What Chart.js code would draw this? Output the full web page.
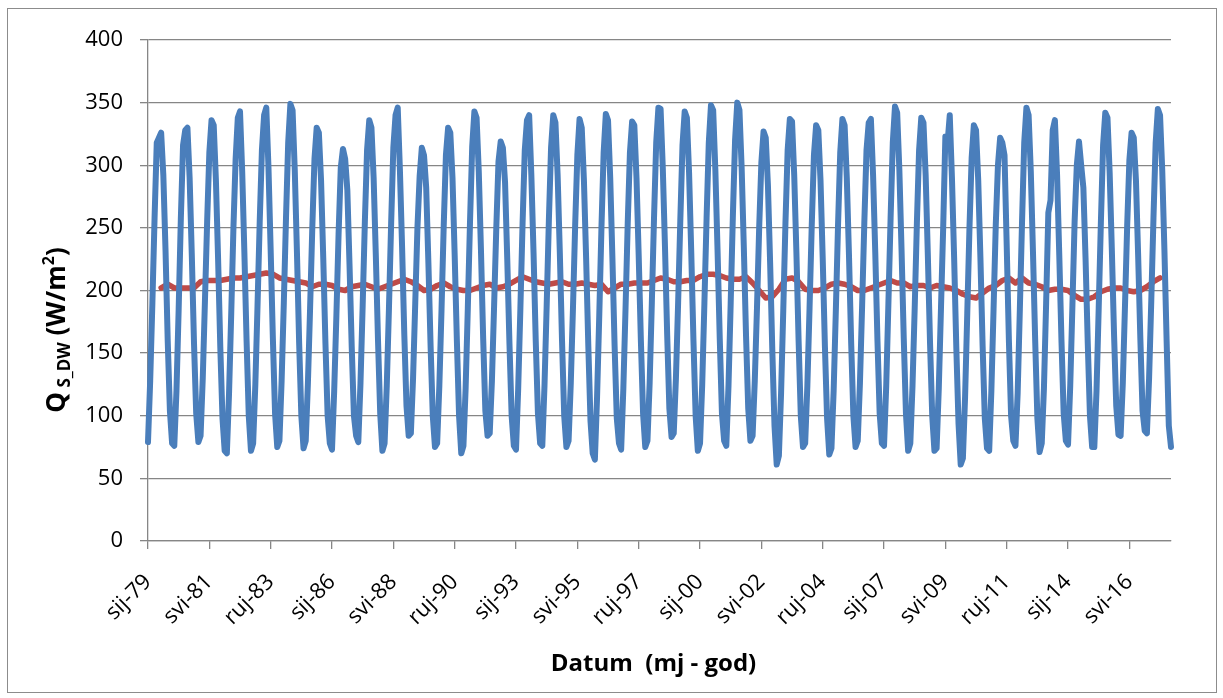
<!DOCTYPE html>
<html>
<head>
<meta charset="utf-8">
<script src="https://cdn.jsdelivr.net/npm/chart.js@4.4.1/dist/chart.umd.min.js"></script>
<style>
  html, body { margin: 0; padding: 0; background: #fff; }
  #wrap { width: 1223px; height: 698px; position: relative; }
</style>
</head>
<body>
<div id="wrap"><canvas id="chartQ"></canvas></div>
<script>
// Mjeseci (hr) i raspon godina
const monthNames = ["sij", "velj", "ožu", "tra", "svi", "lip", "srp", "kol", "ruj", "lis", "stu", "pro"];
const firstYear = 1979;
const lastYear = 2017;

// Oznake koje se vide na x osi
const tickLabels = ["sij-79", "svi-81", "ruj-83", "sij-86", "svi-88", "ruj-90", "sij-93", "svi-95",
  "ruj-97", "sij-00", "svi-02", "ruj-04", "sij-07", "svi-09", "ruj-11", "sij-14", "svi-16"];

// Q_S_DW mjesečno (W/m2), sij..pro
const q1979 = [79, 128, 190, 258, 318, 322, 326, 292, 232, 160, 104, 78];
const q1980 = [76, 120, 185, 258, 316, 328, 330, 290, 228, 158, 102, 79];
const q1981 = [84, 130, 192, 255, 310, 336, 332, 288, 225, 155, 98, 72];
const q1982 = [70, 118, 182, 250, 305, 338, 343, 295, 230, 160, 100, 72];
const q1983 = [78, 125, 188, 255, 312, 340, 346, 298, 232, 162, 102, 75];
const q1984 = [80, 128, 190, 258, 318, 349, 344, 296, 230, 158, 100, 74];
const q1985 = [80, 126, 186, 250, 305, 330, 326, 288, 226, 158, 100, 78];
const q1986 = [73, 120, 180, 245, 298, 313, 305, 280, 220, 155, 100, 84];
const q1987 = [79, 126, 188, 255, 312, 336, 330, 290, 228, 160, 102, 72];
const q1988 = [78, 124, 186, 254, 314, 340, 346, 296, 234, 165, 108, 84];
const q1989 = [86, 130, 190, 250, 291, 314, 308, 282, 222, 156, 100, 75];
const q1990 = [78, 124, 185, 252, 308, 330, 326, 290, 228, 160, 100, 70];
const q1991 = [76, 122, 186, 255, 315, 343, 338, 295, 232, 162, 104, 84];
const q1992 = [86, 128, 188, 250, 303, 319, 314, 286, 225, 158, 100, 76];
const q1993 = [73, 122, 186, 254, 312, 336, 340, 292, 230, 160, 102, 78];
const q1994 = [76, 124, 188, 256, 314, 340, 334, 292, 230, 160, 100, 75];
const q1995 = [80, 126, 186, 252, 308, 337, 330, 288, 226, 156, 96, 70];
const q1996 = [65, 115, 180, 250, 310, 341, 336, 290, 226, 156, 98, 78];
const q1997 = [73, 122, 186, 254, 310, 335, 332, 290, 228, 160, 102, 75];
const q1998 = [80, 126, 190, 258, 318, 346, 345, 298, 235, 165, 106, 83];
const q1999 = [86, 130, 190, 256, 316, 343, 338, 294, 230, 160, 100, 72];
const q2000 = [78, 125, 190, 258, 318, 348, 344, 296, 232, 162, 102, 80];
const q2001 = [76, 124, 190, 260, 320, 350, 344, 298, 234, 164, 106, 80];
const q2002 = [84, 128, 186, 250, 302, 327, 322, 284, 222, 152, 92, 61];
const q2003 = [68, 118, 184, 254, 312, 337, 335, 292, 230, 160, 100, 75];
const q2004 = [78, 124, 186, 252, 308, 332, 328, 288, 226, 156, 98, 69];
const q2005 = [74, 120, 184, 252, 310, 337, 332, 290, 228, 158, 100, 75];
const q2006 = [80, 126, 188, 254, 312, 334, 337, 292, 230, 160, 102, 78];
const q2007 = [76, 124, 190, 258, 318, 347, 342, 296, 232, 162, 102, 72];
const q2008 = [78, 124, 186, 254, 312, 338, 334, 292, 228, 158, 100, 72];
const q2009 = [74, 122, 186, 250, 323, 318, 340, 290, 226, 154, 94, 61];
const q2010 = [66, 115, 182, 250, 306, 332, 328, 288, 226, 156, 98, 74];
const q2011 = [72, 120, 185, 252, 300, 322, 318, 308, 236, 160, 100, 80];
const q2012 = [76, 118, 185, 255, 318, 346, 340, 295, 230, 160, 98, 71];
const q2013 = [78, 122, 190, 262, 272, 328, 336, 292, 228, 160, 102, 80];
const q2014 = [77, 124, 188, 255, 300, 319, 300, 282, 225, 158, 100, 75];
const q2015 = [75, 120, 186, 255, 316, 342, 338, 294, 232, 165, 108, 85];
const q2016 = [84, 126, 188, 252, 304, 326, 322, 288, 228, 162, 104, 88];
const q2017 = [86, 130, 192, 258, 318, 345, 340, 296, 232, 160, 92, 75];

const yearRows = [q1979, q1980, q1981, q1982, q1983, q1984, q1985, q1986, q1987, q1988,
  q1989, q1990, q1991, q1992, q1993, q1994, q1995, q1996, q1997, q1998, q1999, q2000,
  q2001, q2002, q2003, q2004, q2005, q2006, q2007, q2008, q2009, q2010, q2011, q2012,
  q2013, q2014, q2015, q2016, q2017];

// Pomični prosjek (12 mj.), očitan svaka 3 mjeseca, od srp-79 (indeks 6)
const maStart = 6;
const maEvery = 3;
const maValues = [
  202, 205, 202, 202, 202, 202, 207, 208, 208, 208, 209, 210, 210, 211, 212, 213, 214, 213,
  210, 209, 208, 207, 206, 203, 205, 205, 204, 201, 200, 203, 204, 205, 203, 201, 203, 205,
  207, 209, 207, 204, 200, 201, 204, 206, 203, 201, 200, 200, 202, 204, 205, 202, 203, 205,
  208, 211, 209, 207, 206, 205, 206, 207, 205, 205, 206, 205, 204, 205, 199, 202, 205, 205,
  206, 206, 206, 208, 210, 209, 207, 207, 208, 208, 211, 213, 213, 212, 210, 209, 209, 211,
  206, 200, 194, 195, 201, 209, 210, 207, 201, 200, 200, 202, 205, 206, 205, 203, 200, 200,
  202, 204, 206, 208, 206, 206, 203, 204, 204, 202, 204, 203, 202, 200, 197, 195, 194, 198,
  202, 204, 208, 210, 206, 210, 206, 205, 203, 200, 201, 201, 200, 196, 193, 193, 195, 199,
  201, 202, 202, 200, 199, 200, 203, 207, 210
];

const xTitle = "Datum  (mj - god)";

// Kategorije (mjeseci) i nizovi za chart
const labels = [];
for (let y = firstYear; y <= lastYear; y++) {
  monthNames.forEach(m => labels.push(m + "-" + String(y).slice(2)));
}
const blueData = [].concat(...yearRows);
const redData = labels.map(() => null);
maValues.forEach((v, i) => { redData[maStart + i * maEvery] = v; });

const gridGray = "#868686";

// Okvir, naslov x osi i naslov y osi (s indeksom i eksponentom)
const titlesPlugin = {
  id: "titles",
  beforeDraw(chart) {
    const ctx = chart.ctx;
    ctx.save();
    ctx.strokeStyle = "#8c8c8c";
    ctx.lineWidth = 1;
    ctx.strokeRect(7.5, 8.5, 1209, 684);
    ctx.restore();
  },
  afterDraw(chart) {
    const ctx = chart.ctx;
    const area = chart.chartArea;
    ctx.save();
    ctx.fillStyle = "#000";
    ctx.textBaseline = "alphabetic";

    ctx.font = "bold 24px 'Open Sans'";
    ctx.textAlign = "center";
    ctx.fillText(xTitle, (area.left + area.right) / 2 - 6, 671);

    const parts = [
      { t: "Q", size: 26, dy: 0 },
      { t: " S_DW", size: 17, dy: 5 },
      { t: " (W/m", size: 26, dy: 0 },
      { t: "2", size: 16, dy: -11 },
      { t: ")", size: 26, dy: 0 }
    ];
    ctx.textAlign = "left";
    let total = 0;
    parts.forEach(p => {
      ctx.font = "bold " + p.size + "px 'Open Sans'";
      p.w = ctx.measureText(p.t).width;
      total += p.w;
    });
    ctx.translate(65, 330);
    ctx.rotate(-Math.PI / 2);
    let x = -total / 2;
    parts.forEach(p => {
      ctx.font = "bold " + p.size + "px 'Open Sans'";
      ctx.fillText(p.t, x, p.dy);
      x += p.w;
    });
    ctx.restore();
  }
};

window.addEventListener("DOMContentLoaded", () => {
  const ctx = document.getElementById("chartQ").getContext("2d");
  window.chartQ = new Chart(ctx, {
    type: "line",
    data: {
      labels: labels,
      datasets: [
        {
          label: "Q_S_DW",
          data: blueData,
          borderColor: "#4a7ebb",
          borderWidth: 6,
          pointRadius: 0,
          tension: 0,
          borderJoinStyle: "round",
          borderCapStyle: "round",
          fill: false
        },
        {
          label: "12 mj. pomični prosjek",
          data: redData,
          borderColor: "#be4b48",
          borderWidth: 5.5,
          pointRadius: 0,
          tension: 0,
          spanGaps: true,
          borderJoinStyle: "round",
          borderCapStyle: "round",
          fill: false
        }
      ]
    },
    options: {
      responsive: true,
      maintainAspectRatio: false,
      animation: false,
      layout: { padding: { left: 0, right: 52, top: 40, bottom: 0 } },
      plugins: {
        legend: { display: false },
        tooltip: { enabled: false }
      },
      scales: {
        x: {
          type: "category",
          offset: false,
          afterBuildTicks: scale => {
            scale.ticks = scale.ticks.filter(t => tickLabels.includes(labels[t.value]));
          },
          afterFit: scale => { scale.height = 157; },
          ticks: {
            autoSkip: false,
            minRotation: 45,
            maxRotation: 45,
            padding: 20,
            color: "#000",
            font: { family: "'Open Sans'", size: 22 }
          },
          grid: {
            drawOnChartArea: false,
            drawTicks: true,
            tickLength: 8,
            color: gridGray,
            lineWidth: 1.3
          },
          border: { display: true, color: gridGray, width: 1.3 }
        },
        y: {
          min: 0,
          max: 400,
          afterFit: scale => { scale.width = 148; },
          ticks: {
            stepSize: 50,
            padding: 17,
            color: "#000",
            font: { family: "'Open Sans'", size: 22 }
          },
          grid: {
            color: gridGray,
            lineWidth: 1.3,
            tickLength: 8
          },
          border: { display: true, color: gridGray, width: 1.3 }
        }
      }
    },
    plugins: [titlesPlugin]
  });
});
</script>
</body>
</html>
